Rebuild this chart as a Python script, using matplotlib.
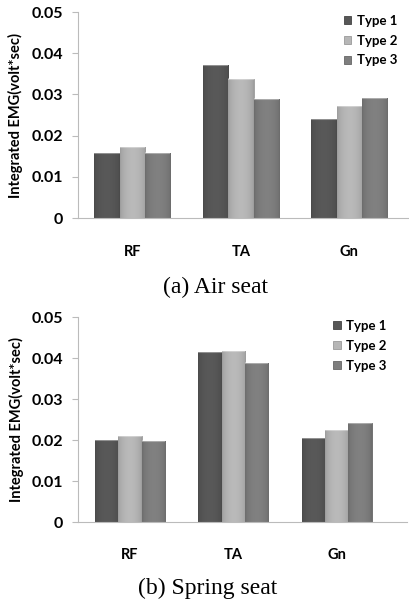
import matplotlib
matplotlib.use("Agg")
import matplotlib.pyplot as plt
import numpy as np
from matplotlib.colors import to_rgb

muscles = ["RF", "TA", "Gn"]
types = ["Type 1", "Type 2", "Type 3"]
air_seat = [[0.0159, 0.0371, 0.0240],
            [0.0173, 0.0337, 0.0273],
            [0.0157, 0.0290, 0.0291]]
spring_seat = [[0.0201, 0.0416, 0.0205],
               [0.0211, 0.0418, 0.0224],
               [0.0197, 0.0387, 0.0241]]
captions = ["(a) Air seat", "(b) Spring seat"]
yticks = [0, 0.01, 0.02, 0.03, 0.04, 0.05]
ytick_labels = ["0", "0.01", "0.02", "0.03", "0.04", "0.05"]

cols = ["#575757", "#b6b6b6", "#7e7e7e"]
edges = ["#444444", "#9a9a9a", "#666666"]

fig = plt.figure(figsize=(4.09, 6.01), dpi=100)
rects = [[0.191, 0.637, 0.809, 0.343], [0.191, 0.1314, 0.804, 0.341]]
xmax = [2.55, 2.68]
bw = [0.234, 0.226]
leg_anchor = [(1.0, 1.045), (0.975, 1.045)]
cap_pos = [(0.414, -0.335), (0.395, -0.322)]

def shade(ax, patch, c):
    # horizontal shading like the excel bars
    x0, y0 = patch.get_x(), patch.get_y()
    w, h = patch.get_width(), patch.get_height()
    t = np.linspace(0, 1, 40)
    prof = 0.86 + 0.16 * np.sin(np.pi * t) ** 0.6
    rgb = np.clip(np.array(to_rgb(c))[None, None, :] * prof[None, :, None], 0, 1)
    im = ax.imshow(rgb, extent=(x0, x0 + w, y0, y0 + h), aspect="auto", zorder=2,
                   interpolation="bilinear")
    im.set_clip_path(patch)
    # lighter cap on top
    ax.plot([x0, x0 + w], [y0 + h, y0 + h], color="white", alpha=0.35, lw=1.5,
            zorder=3, solid_capstyle="butt")

for k, (data, cap) in enumerate(zip([air_seat, spring_seat], captions)):
    ax = fig.add_axes(rects[k])
    x = np.arange(len(muscles))
    for i, t in enumerate(types):
        bars = ax.bar(x + (i - 1) * bw[k], data[i], bw[k], color=cols[i],
                      edgecolor=edges[i], linewidth=0.6, label=t, zorder=1)
        for p in bars:
            shade(ax, p, cols[i])
    ax.set_xlim(-0.5, xmax[k])
    ax.set_ylim(0, 0.05)
    ax.set_yticks(yticks)
    ax.set_yticklabels(ytick_labels, fontsize=11.5, fontweight="bold", family="Lato")
    ax.set_xticks(x)
    ax.set_xticklabels(muscles, fontsize=10.5, fontweight="bold", family="Lato")
    ax.tick_params(axis="x", length=0, pad=19)
    ax.tick_params(axis="y", length=4, color="#bbbbbb", pad=7)
    for s in ["top", "right"]:
        ax.spines[s].set_visible(False)
    for s in ["left", "bottom"]:
        ax.spines[s].set_color("#bbbbbb")
        ax.spines[s].set_linewidth(0.8)
    ax.set_ylabel("Integrated EMG(volt*sec)", fontsize=10.5, fontweight="bold",
                  family="Lato")
    ax.yaxis.set_label_coords(-0.166, 0.5)
    ax.legend(loc="upper right", bbox_to_anchor=leg_anchor[k], frameon=False,
              prop={"family": "Lato", "weight": "bold", "size": 9.5},
              handlelength=0.6, handleheight=0.6, handletextpad=0.4,
              labelspacing=0.6)
    ax.text(cap_pos[k][0], cap_pos[k][1], cap, transform=ax.transAxes,
            ha="center", va="center", fontsize=17, family="Liberation Serif")

fig.savefig("out.png", dpi=100)
